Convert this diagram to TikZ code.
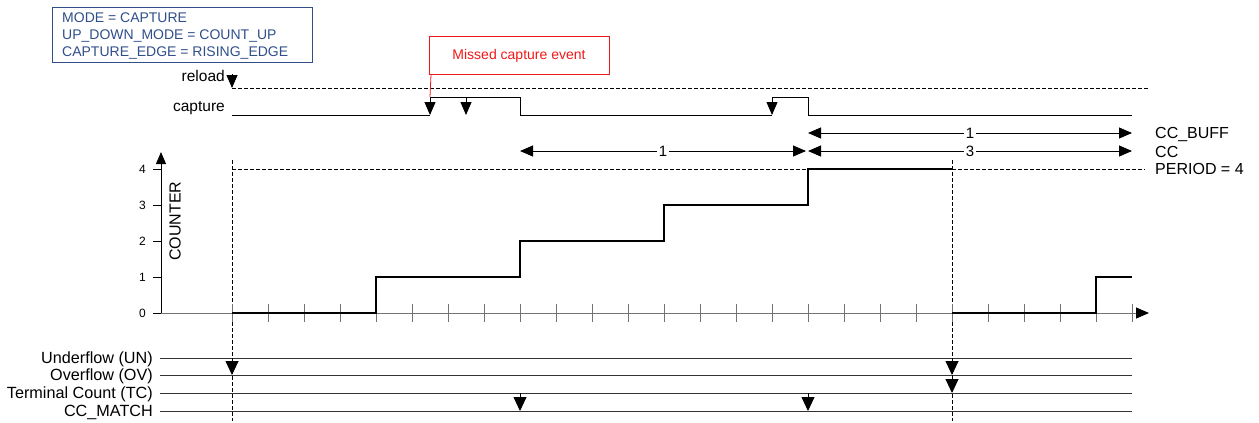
\documentclass[tikz,border=0pt]{standalone}
\usepackage{fontspec}
\setmainfont{Liberation Sans}
\usetikzlibrary{arrows.meta}
\definecolor{boxblue}{RGB}{47,78,138}
\definecolor{missred}{RGB}{240,25,25}
\newcommand\myfs[1]{\fontsize{#1}{#1}\selectfont}
\begin{document}
\begin{tikzpicture}[x=1pt,y=-1pt,
  every node/.style={inner sep=0pt},
  tri/.style={-{Triangle[length=13pt,width=11pt]}},
  bigtri/.style={-{Triangle[length=14pt,width=13pt]}},
  dbl/.style={{Triangle[length=13pt,width=11pt]}-{Triangle[length=13pt,width=11pt]}},
  dashedline/.style={dash pattern=on 4pt off 2pt, line width=0.8pt},
  sig/.style={draw=black!80, line width=0.9pt},
  wave/.style={line width=0.9pt},
  tickgray/.style={draw=black!55, line width=0.9pt},
  lbl/.style={font=\myfs{15.5}},
  arrlbl/.style={font=\myfs{15}, fill=white, inner sep=1.5pt},
  axnum/.style={font=\myfs{12}, anchor=east}
]
\useasboundingbox (0,0) rectangle (1259,423);

% configuration box
\node (cfg) [draw=boxblue, line width=0.8pt, minimum width=260pt, minimum height=55pt, anchor=north west] at (52,7) {};
\node (cfg1) [anchor=base west, text=boxblue, font=\myfs{14}] at (62,23) {MODE = CAPTURE};
\node (cfg2) [anchor=base west, text=boxblue, font=\myfs{14}] at (62,39.5) {UP\_DOWN\_MODE = COUNT\_UP};
\node (cfg3) [anchor=base west, text=boxblue, font=\myfs{14}] at (62,56) {CAPTURE\_EDGE = RISING\_EDGE};

% missed capture callout
\node (miss) [draw=missred, line width=0.8pt, minimum width=180pt, minimum height=38pt, anchor=north west] at (429,36) {};
\node (misstxt) [anchor=base, text=missred, font=\myfs{14}] at (519,59) {Missed capture event};

% reload
\node (reload) [lbl, anchor=base east] at (225,81) {reload};
\coordinate (rl0) at (232,74);
\coordinate (rl1) at (232,88);
\coordinate (rlend) at (1148,88);
\draw[tri, line width=0.9pt] (rl0) -- (rl1);
\draw[dashedline] (rl1) -- (rlend);

% capture
\node (capture) [lbl, anchor=base east] at (225,111) {capture};
\coordinate (cap0) at (232,115);
\coordinate (e1t) at (430,97);  \coordinate (e1b) at (430,115);
\coordinate (e2t) at (466,97);  \coordinate (e2b) at (466,115);
\coordinate (e3t) at (772,97);  \coordinate (e3b) at (772,115);
\draw[wave] (cap0) -- (e1b);
\draw[wave] (e1t) -- (520,97) -- (520,115) -- (e3b);
\draw[wave] (e3t) -- (808,97) -- (808,115) -- (1132,115);
\draw[wave, tri] (e1t) -- (e1b);
\draw[wave, tri] (e2t) -- (e2b);
\draw[wave, tri] (e3t) -- (e3b);
\draw[missred, line width=0.8pt] ([xshift=2pt]miss.south west) -- (e1t);

% CC / CC_BUFF intervals
\coordinate (cca) at (520,151);
\coordinate (ccb) at (806,151);
\coordinate (ccc) at (808,151);
\coordinate (ccd) at (1132,151);
\coordinate (cba) at (808,133);
\coordinate (cbb) at (1132,133);
\draw[dbl, line width=0.9pt] (cca) -- node[arrlbl] (cc1) {1} (ccb);
\draw[dbl, line width=0.9pt] (ccc) -- node[arrlbl] (cc3) {3} (ccd);
\draw[dbl, line width=0.9pt] (cba) -- node[arrlbl] (cb1) {1} (cbb);
\node (lccbuff) [anchor=base west, font=\myfs{16}] at (1155,138) {CC\_BUFF};
\node (lcc) [anchor=base west, font=\myfs{16}] at (1155,157) {CC};
\node (lper) [anchor=base west, font=\myfs{16}] at (1155,174) {PERIOD = 4};

% period line and vertical markers
\draw[dashedline] (232,169) -- (1145,169);
\draw[dashedline] (232,160) -- (232,421);
\draw[dashedline] (952,160) -- (952,421);

% axes
\coordinate (org) at (161,313);
\draw[line width=0.9pt, -{Triangle[length=12pt,width=10pt]}] (org) -- (161,152);
\draw[tickgray, -{Triangle[length=13pt,width=11pt,color=black]}] (org) -- (1149,313);
\foreach \i in {0,...,4} {
  \draw[line width=0.9pt] (153,313-36*\i) -- (161,313-36*\i);
  \node[axnum] at (146,313-36*\i) {\i};
}
\foreach \k in {0,...,25} {
  \draw[tickgray] (232+36*\k,304) -- (232+36*\k,322);
}
\node (counter) [rotate=90, font=\myfs{16}] at (175,221) {COUNTER};

% counter value
\draw[line width=2pt, line join=miter] (232,313) -- (376,313) -- (376,277) -- (520,277) -- (520,241) -- (664,241) -- (664,205) -- (808,205) -- (808,169) -- (952,169);
\draw[line width=2pt, line join=miter] (952,313) -- (1096,313) -- (1096,277) -- (1132,277);

% status signals
\foreach \y/\t/\n in {358/Underflow (UN)/un, 375/Overflow (OV)/ov, 393/Terminal Count (TC)/tc, 411/CC\_MATCH/ccm} {
  \node (l\n) [anchor=base east, font=\myfs{16.2}] at (153,\y+5) {\t};
  \draw[sig] (160,\y) -- (1132,\y);
}
\draw[bigtri, line width=0.9pt] (232,358) -- (232,375);
\draw[bigtri, line width=0.9pt] (952,358) -- (952,375);
\draw[bigtri, line width=0.9pt] (952,375) -- (952,393);
\draw[bigtri, line width=0.9pt] (520,393) -- (520,411);
\draw[bigtri, line width=0.9pt] (808,393) -- (808,411);
\end{tikzpicture}
\end{document}
